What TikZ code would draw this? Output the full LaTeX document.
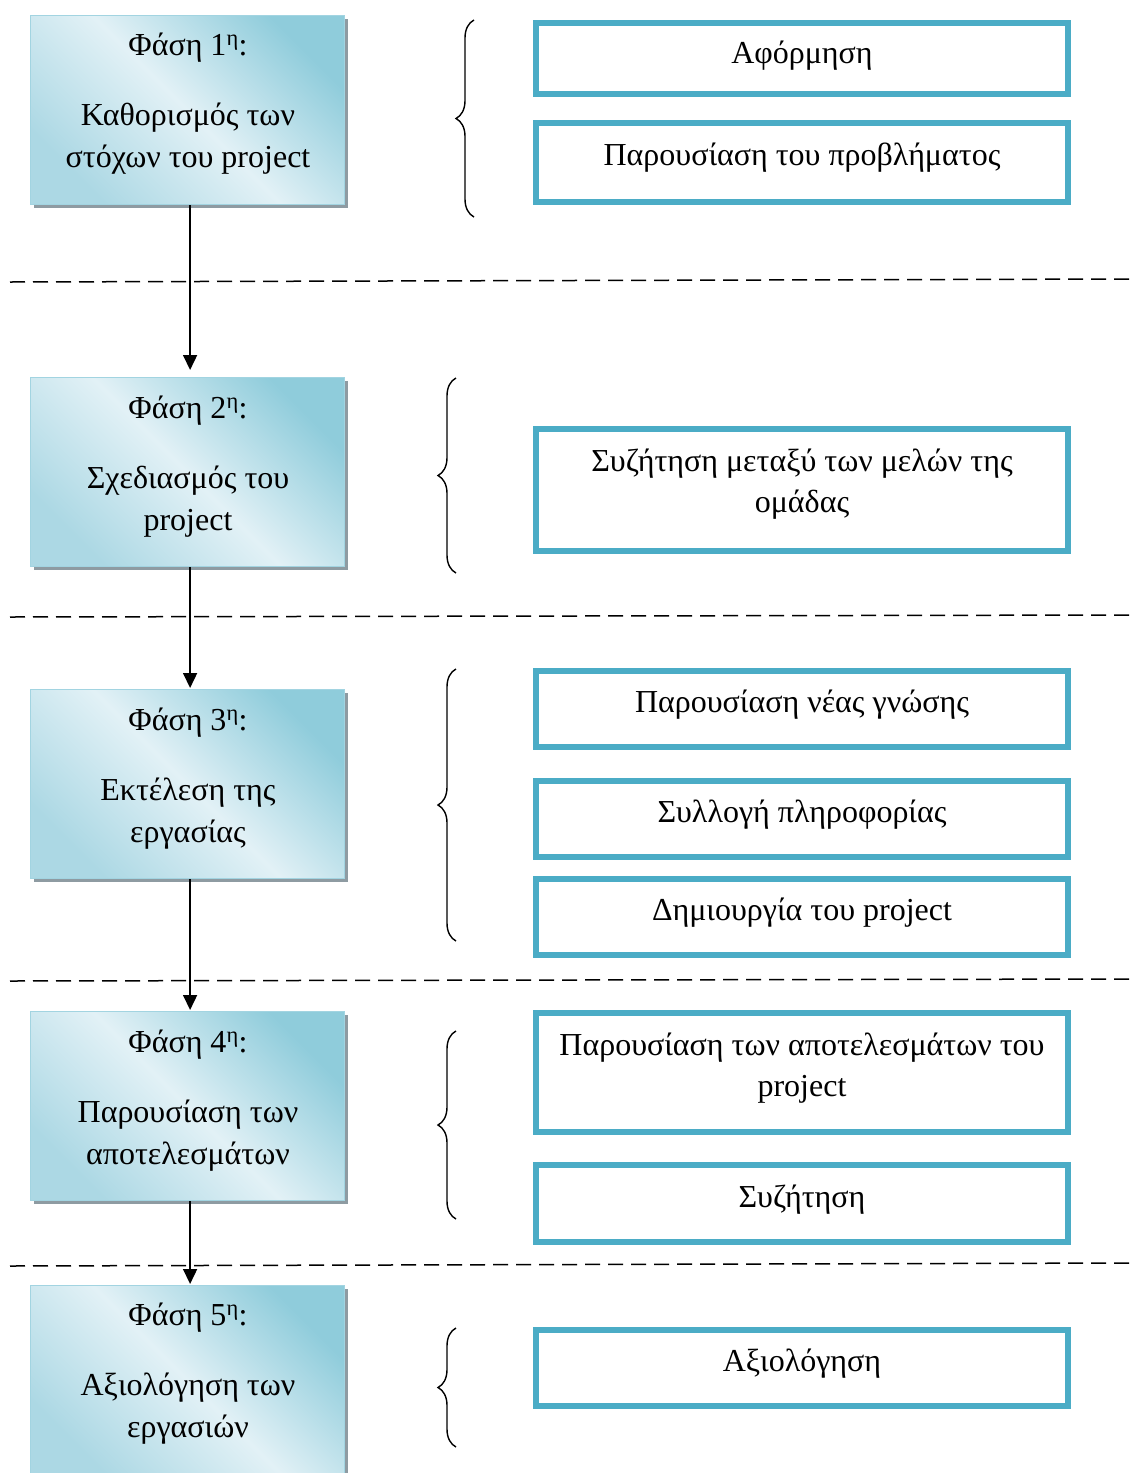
\documentclass[tikz,border=0pt]{standalone}
\usepackage{fontspec}
\setmainfont{Liberation Serif}
\usetikzlibrary{arrows.meta,decorations.pathreplacing,shadows}
\definecolor{phdark}{HTML}{8FCCDB}
\definecolor{phlight}{HTML}{E2F1F6}
\definecolor{phmid}{HTML}{ACD8E4}
\definecolor{phedge}{HTML}{A2D4E1}
\definecolor{stepedge}{HTML}{4BACC6}
\definecolor{shadowgrey}{HTML}{8E9BA2}

\begin{document}
\begin{tikzpicture}[x=1pt,y=-1pt,
  phasebox/.style={draw=phedge, line width=1.2pt,
    top color=phdark, bottom color=phmid, middle color=phlight, shading angle=-45,
    minimum width=314pt, minimum height=189pt, inner sep=0pt, anchor=north west,
    general shadow={fill=shadowgrey, shadow xshift=3pt, shadow yshift=-3pt}},
  % multi-line texts are placed by the baseline of their last line
  phasetext/.style={align=center, anchor=base, inner sep=0pt,
    font=\fontsize{32}{42}\selectfont},
  stepbox/.style={draw=stepedge, line width=6pt, minimum width=532pt,
    inner sep=0pt, anchor=north west},
  steptext/.style={align=center, anchor=base, inner sep=0pt,
    font=\fontsize{32}{41}\selectfont},
  flow/.style={line width=1.6pt, -{Triangle[width=14pt,length=15pt]}},
  sep/.style={line width=1.5pt, dash pattern=on 15pt off 8pt},
  bracket/.style={line width=1.4pt, decorate,
    decoration={brace, amplitude=18pt}}]

\useasboundingbox (0,0) rectangle (1135,1473);

% phase column
\node[phasebox] (p1) at (30,15) {};
\node[phasebox] (p2) at (30,377) {};
\node[phasebox] (p3) at (30,689) {};
\node[phasebox] (p4) at (30,1011) {};
\node[phasebox] (p5) at (30,1285) {};

\node[phasetext] (t1) at (188,167) {Φάση 1\textsuperscript{η}:\\[28pt]Καθορισμός των\\στόχων του project};
\node[phasetext] (t2) at (188,530) {Φάση 2\textsuperscript{η}:\\[28pt]Σχεδιασμός του\\project};
\node[phasetext] (t3) at (188,842) {Φάση 3\textsuperscript{η}:\\[28pt]Εκτέλεση της\\εργασίας};
\node[phasetext] (t4) at (188,1164) {Φάση 4\textsuperscript{η}:\\[28pt]Παρουσίαση των\\αποτελεσμάτων};
\node[phasetext] (t5) at (188,1437) {Φάση 5\textsuperscript{η}:\\[28pt]Αξιολόγηση των\\εργασιών};

% arrows between phases
\draw[flow] ([xshift=2.5pt]p1.south) -- ([xshift=2.5pt,yshift=7pt]p2.north);
\draw[flow] ([xshift=2.5pt]p2.south) -- ([xshift=2.5pt,yshift=1pt]p3.north);
\draw[flow] ([xshift=2.5pt]p3.south) -- ([xshift=2.5pt,yshift=1pt]p4.north);
\draw[flow] ([xshift=2.5pt]p4.south) -- ([xshift=2.5pt,yshift=1pt]p5.north);

% separators
\coordinate (s1a) at (10,282);  \coordinate (s1b) at (1135,279);
\coordinate (s2a) at (10,617);  \coordinate (s2b) at (1135,615);
\coordinate (s3a) at (10,981);  \coordinate (s3b) at (1135,979);
\coordinate (s4a) at (10,1266); \coordinate (s4b) at (1135,1263);
\draw[sep] (s1a) -- (s1b);
\draw[sep] (s2a) -- (s2b);
\draw[sep] (s3a) -- (s3b);
\draw[sep] (s4a) -- (s4b);

% braces
\draw[bracket] (474,217) -- (474,20);
\draw[bracket] (456,573) -- (456,378);
\draw[bracket] (456,941) -- (456,669);
\draw[bracket] (456,1219) -- (456,1031);
\draw[bracket] (456,1447) -- (456,1328);

% step boxes (placed by their outer corner)
\node[stepbox, minimum height=71pt]  (r1a) at (533,20) {};
\node[stepbox, minimum height=79pt]  (r1b) at (533,120) {};
\node[stepbox, minimum height=122pt] (r2)  at (533,426) {};
\node[stepbox, minimum height=76pt]  (r3a) at (533,668) {};
\node[stepbox, minimum height=76pt]  (r3b) at (533,778) {};
\node[stepbox, minimum height=76pt]  (r3c) at (533,876) {};
\node[stepbox, minimum height=119pt] (r4a) at (533,1010) {};
\node[stepbox, minimum height=77pt]  (r4b) at (533,1162) {};
\node[stepbox, minimum height=76pt]  (r5)  at (533,1327) {};

\node[steptext] (l1a) at (802,63) {Αφόρμηση};
\node[steptext] (l1b) at (802,165) {Παρουσίαση του προβλήματος};
\node[steptext] (l2)  at (802,512) {Συζήτηση μεταξύ των μελών της\\ομάδας};
\node[steptext] (l3a) at (802,712) {Παρουσίαση νέας γνώσης};
\node[steptext] (l3b) at (802,822) {Συλλογή πληροφορίας};
\node[steptext] (l3c) at (802,920) {Δημιουργία του project};
\node[steptext] (l4a) at (802,1096) {Παρουσίαση των αποτελεσμάτων του\\project};
\node[steptext] (l4b) at (802,1207) {Συζήτηση};
\node[steptext] (l5)  at (802,1371) {Αξιολόγηση};

\end{tikzpicture}
\end{document}
